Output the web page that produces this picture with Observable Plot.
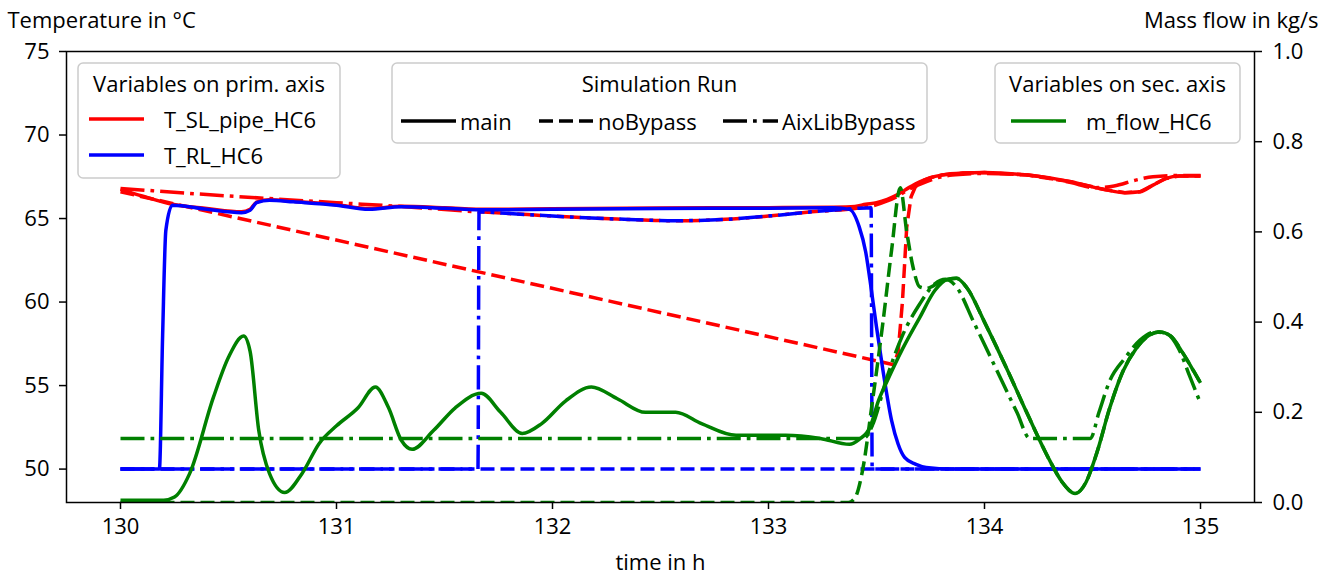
<!DOCTYPE html>
<html>
<head>
<meta charset="utf-8">
<script src="https://cdn.jsdelivr.net/npm/d3@7"></script>
<script src="https://cdn.jsdelivr.net/npm/@observablehq/plot@0.6"></script>
<style>
  body { margin: 0; background: #fff; }
  #wrap { position: relative; width: 1327px; height: 575px; font-family: "Open Sans", sans-serif; }
  #wrap svg { display: block; }
</style>
</head>
<body>
<div id="wrap"></div>
<script>
// ---------- data (time in h, values) ----------
const xTicks = [130, 131, 132, 133, 134, 135];
const tempTicks = [50, 55, 60, 65, 70, 75];
const flowTicks = [0.0, 0.2, 0.4, 0.6, 0.8, 1.0];

// T_SL_pipe_HC6 (°C)
const tSL_main = [[130,66.75],[130.1,66.35],[130.24,65.85],[130.4,65.6],[130.56,65.4],[130.6,65.55],[130.63,65.98],[130.69,66.12],[130.8,66.03],[131,65.83],[131.15,65.6],[131.3,65.73],[131.5,65.65],[131.7,65.55],[132,65.58],[132.5,65.63],[133,65.65],[133.3,65.68],[133.4,65.72],[133.45,65.85],[133.5,65.95],[133.55,66.15],[133.6,66.45],[133.65,66.85],[133.7,67.2],[133.75,67.45],[133.8,67.6],[133.9,67.72],[134,67.75],[134.2,67.6],[134.4,67.2],[134.55,66.75],[134.65,66.55],[134.72,66.6],[134.78,67.0],[134.84,67.4],[134.9,67.55],[135,67.55]];
const tSL_noBypass = [[130,66.6],[133.58,56.25],[133.6,57.0],[133.62,60.0],[133.64,64.5],[133.66,66.3],[133.68,66.9],[133.72,67.3],[133.75,67.45],[133.8,67.6],[133.9,67.72],[134,67.75],[134.2,67.6],[134.4,67.2],[134.55,66.75],[134.65,66.55],[134.72,66.6],[134.78,67.0],[134.84,67.4],[134.9,67.55],[135,67.55]];
const tSL_aixLib = [[130,66.8],[130.5,66.35],[131,65.95],[131.3,65.72],[131.66,65.4],[131.8,65.3],[132,65.15],[132.3,64.97],[132.57,64.87],[132.8,64.95],[133,65.15],[133.2,65.4],[133.4,65.6],[133.48,65.75],[133.55,66.05],[133.6,66.35],[133.65,66.75],[133.7,67.05],[133.8,67.5],[133.9,67.65],[134,67.7],[134.2,67.6],[134.4,67.15],[134.51,66.85],[134.6,66.95],[134.7,67.3],[134.78,67.5],[134.9,67.58],[135,67.58]];

// T_RL_HC6 (°C)
const tRL_main = [[130,50],[130.18,50],[130.195,58],[130.21,64.3],[130.24,65.8],[130.4,65.55],[130.56,65.35],[130.6,65.5],[130.63,65.95],[130.69,66.1],[130.8,66.0],[131,65.8],[131.15,65.55],[131.3,65.7],[131.5,65.62],[131.7,65.52],[132,65.55],[132.5,65.6],[133,65.62],[133.3,65.65],[133.375,65.55],[133.42,64.5],[133.45,63.0],[133.47,61.3],[133.5,58.5],[133.53,55.9],[133.57,52.9],[133.6,51.5],[133.63,50.7],[133.68,50.3],[133.73,50.1],[133.85,50],[135,50]];
const tRL_noBypass = [[130,50],[135,50]];
const tRL_aixLib = [[130,50],[131.655,50],[131.66,65.4],[131.8,65.3],[132,65.15],[132.3,64.97],[132.57,64.87],[132.8,64.95],[133,65.15],[133.2,65.4],[133.4,65.6],[133.475,65.65],[133.48,50],[135,50]];

// m_flow_HC6 (kg/s)
const mFlow_main = [[130,0.005],[130.2,0.005],[130.25,0.012],[130.32,0.064],[130.43,0.233],[130.5,0.322],[130.57,0.369],[130.6,0.335],[130.64,0.16],[130.69,0.064],[130.76,0.022],[130.84,0.064],[130.92,0.131],[131.0,0.17],[131.1,0.21],[131.18,0.256],[131.24,0.211],[131.3,0.138],[131.35,0.118],[131.45,0.16],[131.55,0.21],[131.67,0.242],[131.76,0.2],[131.86,0.153],[131.95,0.175],[132.06,0.225],[132.18,0.256],[132.3,0.23],[132.43,0.2],[132.57,0.2],[132.69,0.175],[132.85,0.149],[133.08,0.149],[133.24,0.142],[133.375,0.129],[133.42,0.14],[133.47,0.167],[133.51,0.227],[133.55,0.27],[133.62,0.34],[133.7,0.41],[133.77,0.47],[133.83,0.495],[133.87,0.497],[133.92,0.475],[134,0.40],[134.1,0.30],[134.2,0.195],[134.3,0.095],[134.36,0.045],[134.42,0.02],[134.47,0.045],[134.52,0.11],[134.58,0.21],[134.64,0.29],[134.7,0.34],[134.76,0.37],[134.81,0.378],[134.86,0.37],[134.92,0.33],[134.97,0.29],[135,0.265]];
const mFlow_noBypass = [[130,0],[133.37,0],[133.4,0.01],[133.435,0.07],[133.48,0.22],[133.53,0.40],[133.57,0.56],[133.61,0.698],[133.64,0.6],[133.67,0.52],[133.7,0.478],[133.73,0.475],[133.8,0.49],[133.87,0.497],[133.92,0.475],[134,0.40],[134.1,0.30],[134.2,0.195],[134.3,0.095],[134.36,0.045],[134.42,0.02],[134.47,0.045],[134.52,0.11],[134.58,0.21],[134.64,0.29],[134.7,0.34],[134.76,0.37],[134.81,0.378],[134.86,0.37],[134.92,0.33],[134.97,0.29],[135,0.265]];
const mFlow_aixLib = [[130,0.142],[133.44,0.142],[133.48,0.17],[133.55,0.28],[133.62,0.37],[133.7,0.44],[133.77,0.485],[133.82,0.495],[133.87,0.478],[133.95,0.40],[134.05,0.30],[134.15,0.20],[134.21,0.142],[134.49,0.142],[134.53,0.2],[134.58,0.27],[134.65,0.32],[134.72,0.36],[134.79,0.378],[134.84,0.375],[134.9,0.34],[134.95,0.28],[135,0.22]];

// legend contents
const primLegend = [["T_SL_pipe_HC6", "#ff0000"], ["T_RL_HC6", "#0000ff"]];
const runLegend = [["main", null], ["noBypass", "14,6"], ["AixLibBypass", "24,6,3.75,6"]];
const secLegend = [["m_flow_HC6", "#008000"]];

// ---------- scales ----------
const T0 = 48, T1 = 75;
const toT = m => T0 + m * (T1 - T0);          // secondary axis -> primary axis
const fromT = t => (t - T0) / (T1 - T0);

const DASH = "14,6", DASHDOT = "24,6,3.75,6";
const W = 3.5;
const FS = 22;

function line(data, color, dash, secondary, curve) {
  return Plot.line(data, {
    x: d => d[0],
    y: d => secondary ? toT(d[1]) : d[1],
    stroke: color, strokeWidth: W, strokeDasharray: dash || undefined,
    strokeLinecap: "butt", strokeLinejoin: "round", curve: curve || "monotone-x", clip: true
  });
}

const chart = Plot.plot({
  width: 1327, height: 575,
  marginLeft: 66, marginRight: 73, marginTop: 51, marginBottom: 73,
  style: { fontFamily: "'Open Sans', sans-serif", fontSize: FS + "px", background: "white", color: "black" },
  x: { domain: [129.75, 135.25] },
  y: { domain: [T0, T1] },
  marks: [
    line(tSL_main, "#ff0000", null),
    line(tSL_noBypass, "#ff0000", DASH, false, "linear"),
    line(tSL_aixLib, "#ff0000", DASHDOT),
    line(tRL_main, "#0000ff", null),
    line(tRL_noBypass, "#0000ff", DASH, false, "linear"),
    line(tRL_aixLib, "#0000ff", DASHDOT),
    line(mFlow_main, "#008000", null, true),
    line(mFlow_noBypass, "#008000", DASH, true),
    line(mFlow_aixLib, "#008000", DASHDOT, true),
    Plot.frame({ stroke: "black", strokeWidth: 1.5 }),
    Plot.axisX(xTicks, { tickSize: 7, tickPadding: 9, fontSize: FS, strokeWidth: 1.5, tickFormat: d => String(d), label: null }),
    Plot.axisY(tempTicks, { anchor: "left", tickSize: 7, tickPadding: 10, fontSize: FS, strokeWidth: 1.5, tickFormat: d => String(d), label: null }),
    Plot.axisY(flowTicks.map(toT), { anchor: "right", tickSize: 7, tickPadding: 11, fontSize: FS, strokeWidth: 1.5, tickFormat: d => fromT(d).toFixed(1), label: null }),
    Plot.text(["Temperature in °C"], { frameAnchor: "top-left", dx: -59, dy: -39, textAnchor: "start", fontSize: FS }),
    Plot.text(["Mass flow in kg/s"], { frameAnchor: "top-right", dx: 64, dy: -39, textAnchor: "end", fontSize: FS }),
    Plot.text(["time in h"], { frameAnchor: "bottom", dy: 67, fontSize: FS })
  ]
});
document.getElementById("wrap").appendChild(chart);

// ---------- legends (overlay) ----------
const ov = d3.select("#wrap").append("svg")
  .attr("width", 1327).attr("height", 575)
  .style("position", "absolute").style("left", "0px").style("top", "0px")
  .style("pointer-events", "none")
  .style("font-family", "'Open Sans', sans-serif").style("font-size", FS + "px");

function legendBox(x, y, w, h, title) {
  const g = ov.append("g").attr("transform", `translate(${x},${y})`);
  g.append("rect").attr("x", 0).attr("y", 0).attr("width", w).attr("height", h)
    .attr("rx", 5).attr("fill", "white").attr("fill-opacity", 0.8)
    .attr("stroke", "#cccccc").attr("stroke-width", 1.5);
  g.append("text").attr("x", w / 2).attr("y", 20).attr("text-anchor", "middle")
    .attr("dominant-baseline", "central").text(title);
  return g;
}
function entry(g, x, y, color, dash) {
  g.append("line").attr("x1", x).attr("x2", x + 55).attr("y1", y).attr("y2", y)
    .attr("stroke", color).attr("stroke-width", W).attr("stroke-dasharray", dash || null);
}

const g1 = legendBox(78, 63, 262, 115, "Variables on prim. axis");
primLegend.forEach(([label, color], i) => {
  const y = 56 + i * 36;
  entry(g1, 11, y, color, null);
  g1.append("text").attr("x", 86).attr("y", y).attr("dominant-baseline", "central").text(label);
});

const g2 = legendBox(392, 63, 535, 80, "Simulation Run");
const runX = [9, 147, 331];
runLegend.forEach(([label, dash], i) => {
  entry(g2, runX[i], 58, "black", dash);
  g2.append("text").attr("x", runX[i] + 59).attr("y", 58).attr("dominant-baseline", "central").text(label);
});

const g3 = legendBox(995, 63, 245, 80, "Variables on sec. axis");
secLegend.forEach(([label, color]) => {
  entry(g3, 16, 58, color, null);
  g3.append("text").attr("x", 91).attr("y", 58).attr("dominant-baseline", "central").text(label);
});
</script>
</body>
</html>
